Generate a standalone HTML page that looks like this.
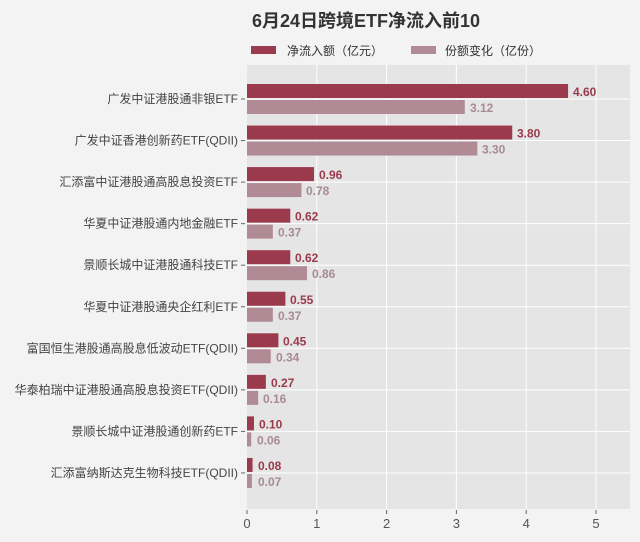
<!DOCTYPE html>
<html><head><meta charset="utf-8"><style>
body{margin:0;background:#f2f2f2;}
svg{display:block;font-family:"Liberation Sans","Noto Sans CJK SC",sans-serif;}
</style></head><body>
<svg width="640" height="542" viewBox="0 0 640 542" xmlns="http://www.w3.org/2000/svg">
<rect width="640" height="542" fill="#f3f3f3"/>
<text x="366" y="27" font-size="18" font-weight="bold" text-anchor="middle" fill="#333">6月24日跨境ETF净流入前10</text>
<rect x="251" y="46" width="25" height="8" fill="#9b3a4d"/>
<text x="287" y="55" font-size="12" fill="#333">净流入额（亿元）</text>
<rect x="411" y="46" width="25" height="8" fill="#b08a94"/>
<text x="445" y="55" font-size="12" fill="#333">份额变化（亿份）</text>
<rect x="247" y="65" width="383" height="444" fill="#e5e5e5"/>
<g stroke="#fff" stroke-width="1">
<line x1="316.8" y1="65" x2="316.8" y2="509"/><line x1="386.6" y1="65" x2="386.6" y2="509"/>
<line x1="456.4" y1="65" x2="456.4" y2="509"/><line x1="526.2" y1="65" x2="526.2" y2="509"/>
<line x1="596" y1="65" x2="596" y2="509"/>
</g>
<g font-size="12">
<g transform="translate(0,99)"><line x1="247" x2="630" stroke="#fff"/><rect x="247" y="-15" width="321.08" height="14" fill="#9b3a4d"/><rect x="247" y="1" width="217.78" height="14" fill="#b08a94"/><text x="573" y="-3" font-weight="bold" fill="#9b3a4d">4.60</text><text x="470" y="13" font-weight="bold" fill="#a88a93">3.12</text><text x="238" y="4" text-anchor="end" fill="#444">广发中证港股通非银ETF</text><line x1="241" x2="245" stroke="#666"/></g>
<g transform="translate(0,140.55)"><line x1="247" x2="630" stroke="#fff"/><rect x="247" y="-15" width="265.24" height="14" fill="#9b3a4d"/><rect x="247" y="1" width="230.34" height="14" fill="#b08a94"/><text x="517" y="-3" font-weight="bold" fill="#9b3a4d">3.80</text><text x="482" y="13" font-weight="bold" fill="#a88a93">3.30</text><text x="238" y="4" text-anchor="end" fill="#444">广发中证香港创新药ETF(QDII)</text><line x1="241" x2="245" stroke="#666"/></g>
<g transform="translate(0,182.1)"><line x1="247" x2="630" stroke="#fff"/><rect x="247" y="-15" width="67.01" height="14" fill="#9b3a4d"/><rect x="247" y="1" width="54.44" height="14" fill="#b08a94"/><text x="319" y="-3" font-weight="bold" fill="#9b3a4d">0.96</text><text x="306" y="13" font-weight="bold" fill="#a88a93">0.78</text><text x="238" y="4" text-anchor="end" fill="#444">汇添富中证港股通高股息投资ETF</text><line x1="241" x2="245" stroke="#666"/></g>
<g transform="translate(0,223.65)"><line x1="247" x2="630" stroke="#fff"/><rect x="247" y="-15" width="43.28" height="14" fill="#9b3a4d"/><rect x="247" y="1" width="25.83" height="14" fill="#b08a94"/><text x="295" y="-3" font-weight="bold" fill="#9b3a4d">0.62</text><text x="278" y="13" font-weight="bold" fill="#a88a93">0.37</text><text x="238" y="4" text-anchor="end" fill="#444">华夏中证港股通内地金融ETF</text><line x1="241" x2="245" stroke="#666"/></g>
<g transform="translate(0,265.2)"><line x1="247" x2="630" stroke="#fff"/><rect x="247" y="-15" width="43.28" height="14" fill="#9b3a4d"/><rect x="247" y="1" width="60.03" height="14" fill="#b08a94"/><text x="295" y="-3" font-weight="bold" fill="#9b3a4d">0.62</text><text x="312" y="13" font-weight="bold" fill="#a88a93">0.86</text><text x="238" y="4" text-anchor="end" fill="#444">景顺长城中证港股通科技ETF</text><line x1="241" x2="245" stroke="#666"/></g>
<g transform="translate(0,306.75)"><line x1="247" x2="630" stroke="#fff"/><rect x="247" y="-15" width="38.39" height="14" fill="#9b3a4d"/><rect x="247" y="1" width="25.83" height="14" fill="#b08a94"/><text x="290" y="-3" font-weight="bold" fill="#9b3a4d">0.55</text><text x="278" y="13" font-weight="bold" fill="#a88a93">0.37</text><text x="238" y="4" text-anchor="end" fill="#444">华夏中证港股通央企红利ETF</text><line x1="241" x2="245" stroke="#666"/></g>
<g transform="translate(0,348.3)"><line x1="247" x2="630" stroke="#fff"/><rect x="247" y="-15" width="31.41" height="14" fill="#9b3a4d"/><rect x="247" y="1" width="23.73" height="14" fill="#b08a94"/><text x="283" y="-3" font-weight="bold" fill="#9b3a4d">0.45</text><text x="276" y="13" font-weight="bold" fill="#a88a93">0.34</text><text x="238" y="4" text-anchor="end" fill="#444">富国恒生港股通高股息低波动ETF(QDII)</text><line x1="241" x2="245" stroke="#666"/></g>
<g transform="translate(0,389.85)"><line x1="247" x2="630" stroke="#fff"/><rect x="247" y="-15" width="18.85" height="14" fill="#9b3a4d"/><rect x="247" y="1" width="11.17" height="14" fill="#b08a94"/><text x="271" y="-3" font-weight="bold" fill="#9b3a4d">0.27</text><text x="263" y="13" font-weight="bold" fill="#a88a93">0.16</text><text x="238" y="4" text-anchor="end" fill="#444">华泰柏瑞中证港股通高股息投资ETF(QDII)</text><line x1="241" x2="245" stroke="#666"/></g>
<g transform="translate(0,431.4)"><line x1="247" x2="630" stroke="#fff"/><rect x="247" y="-15" width="6.98" height="14" fill="#9b3a4d"/><rect x="247" y="1" width="4.19" height="14" fill="#b08a94"/><text x="259" y="-3" font-weight="bold" fill="#9b3a4d">0.10</text><text x="257" y="13" font-weight="bold" fill="#a88a93">0.06</text><text x="238" y="4" text-anchor="end" fill="#444">景顺长城中证港股通创新药ETF</text><line x1="241" x2="245" stroke="#666"/></g>
<g transform="translate(0,472.95)"><line x1="247" x2="630" stroke="#fff"/><rect x="247" y="-15" width="5.58" height="14" fill="#9b3a4d"/><rect x="247" y="1" width="4.89" height="14" fill="#b08a94"/><text x="258" y="-3" font-weight="bold" fill="#9b3a4d">0.08</text><text x="258" y="13" font-weight="bold" fill="#a88a93">0.07</text><text x="238" y="4" text-anchor="end" fill="#444">汇添富纳斯达克生物科技ETF(QDII)</text><line x1="241" x2="245" stroke="#666"/></g>
</g>
<g font-size="13" fill="#555" text-anchor="middle">
<text x="247" y="528">0</text><text x="316.8" y="528">1</text><text x="386.6" y="528">2</text>
<text x="456.4" y="528">3</text><text x="526.2" y="528">4</text><text x="596" y="528">5</text>
</g>
<g stroke="#666"><line x1="247" y1="510" x2="247" y2="514"/><line x1="316.8" y1="510" x2="316.8" y2="514"/><line x1="386.6" y1="510" x2="386.6" y2="514"/><line x1="456.4" y1="510" x2="456.4" y2="514"/><line x1="526.2" y1="510" x2="526.2" y2="514"/><line x1="596" y1="510" x2="596" y2="514"/></g>
</svg>
</body></html>
